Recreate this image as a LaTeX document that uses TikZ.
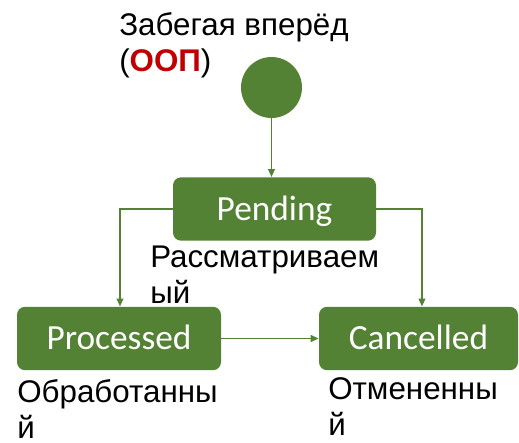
\documentclass[tikz,border=0pt]{standalone}
\usepackage{fontspec}
\setmainfont{Liberation Sans}
\newfontfamily\boxfont{Carlito}
\usetikzlibrary{arrows.meta}
\definecolor{gr}{HTML}{548235}
\definecolor{rd}{HTML}{C00000}
\begin{document}
\begin{tikzpicture}[x=0.75pt,y=-0.75pt,
  state/.style={fill=gr, rounded corners=6pt, text=white, inner sep=0pt,
    font=\boxfont\fontsize{26.5}{30}\selectfont, minimum height=47.5pt,
    text height=19pt, text depth=2pt},
  lbl/.style={anchor=base west, align=left, inner sep=0pt, text=black,
    font=\fontsize{23.5}{27}\selectfont},
  conn/.style={draw=gr, line width=1.4pt, -{Triangle[length=6pt,width=5pt]}}]
\useasboundingbox (0,0) rectangle (519,443);
\node[circle, fill=gr, minimum size=45.75pt, inner sep=0pt] (start) at (271.5,87.5) {};
\node[state, minimum width=152.25pt] (pend) at (274.5,209) {Pending};
\node[state, minimum width=153pt] (proc) at (119,338.5) {Processed};
\node[state, minimum width=149.25pt] (canc) at (418.5,338.5) {Cancelled};
\node[lbl] (title) at (119,71) {Забегая вперёд\\(\textcolor{rd}{\textbf{ООП}})};
\node[lbl] (pendl) at (150,303) {Рассматриваем\\ый};
\node[lbl] (procl) at (17,438) {Обработанны\\й};
\node[lbl] (cancl) at (328,435) {Отмененны\\й};
\draw[conn] (start.south) -- (start.south |- pend.north);
\draw[conn] (pend.west) -| ([xshift=0.75pt]proc.north);
\draw[conn] (pend.east) -| ([xshift=2.6pt]canc.north);
\draw[conn] (proc.east) -- (canc.west);
\end{tikzpicture}
\end{document}
